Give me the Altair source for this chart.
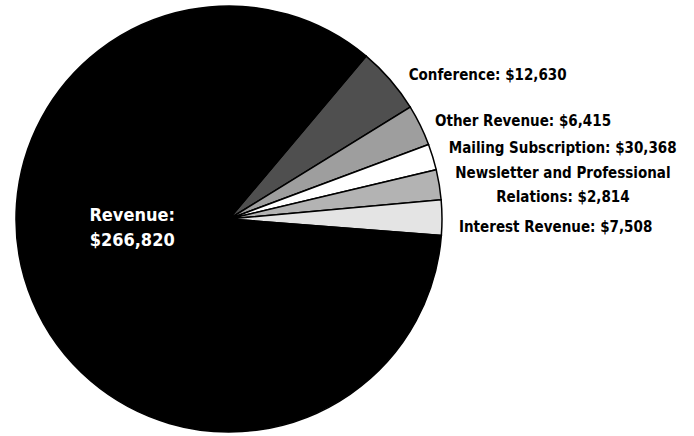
import math
import altair as alt
import pandas as pd

# Slice names, the amounts printed in the labels, and the slice shares (percent of the circle)
names = ["Conference", "Other Revenue", "Mailing Subscription",
         "Newsletter and Professional Relations", "Interest Revenue", "Revenue"]
amounts = ["$12,630", "$6,415", "$30,368", "$2,814", "$7,508", "$266,820"]
shares = [5.06, 3.11, 1.97, 2.28, 2.67, 84.91]
colors = ["#4f4f4f", "#9e9e9e", "#ffffff", "#b3b3b3", "#e4e4e4", "#000000"]

labels = []
for n, a in zip(names, amounts):
    if n == "Newsletter and Professional Relations":
        labels.append(["Newsletter and Professional", "Relations: " + a])
    elif n == "Revenue":
        labels.append(["Revenue:", a])
    else:
        labels.append([n + ": " + a])

df = pd.DataFrame({"name": names, "share": shares, "order": list(range(len(names))),
                   "label": labels})

start = math.radians(40.1)
theta = alt.Theta("share:Q", stack=True,
                  scale=alt.Scale(type="linear", range=[start, start + 2 * math.pi]))
order = alt.Order("order:Q")
FONT = "DejaVu Sans Condensed, Roboto, sans-serif"

base = alt.Chart(df)

pie = base.mark_arc(radius=213, stroke="#000000", strokeWidth=1.5).encode(
    theta=theta,
    order=order,
    color=alt.Color("name:N", scale=alt.Scale(domain=names, range=colors), legend=None),
)

# label styling: (radius, align, dx, dy, fontSize, color)
label_style = {
    "Conference": (236, "left", 1, 10, 15, "#000000"),
    "Other Revenue": (236, "left", -6, 6, 15, "#000000"),
    "Mailing Subscription": (236, "left", -6, -2, 15, "#000000"),
    "Newsletter and Professional Relations": (236, "center", 101, -8, 15, "#000000"),
    "Interest Revenue": (236, "left", -6, 10, 15, "#000000"),
    "Revenue": (105, "center", 0, -44, 18, "#ffffff"),
}

layers = [pie]
for n in names:
    r, al, dx, dy, fs, col = label_style[n]
    layers.append(
        base.mark_text(radius=r, align=al, baseline="middle", dx=dx, dy=dy,
                       lineHeight=24 if fs == 15 else 25, font=FONT, fontSize=fs,
                       fontWeight="bold", color=col).encode(
            theta=theta, order=order,
            text=alt.condition(f"datum.name == '{n}'", alt.Text("label:N"), alt.value("")),
        )
    )

chart = alt.layer(*layers).properties(
    width=458, height=434,
    padding={"left": 0, "top": 2, "right": 236, "bottom": 0},
    autosize=alt.AutoSizeParams(type="none"),
    background="#ffffff",
).configure_view(stroke=None)

chart.save("out.html", embed_options={"renderer": "svg", "actions": False})
